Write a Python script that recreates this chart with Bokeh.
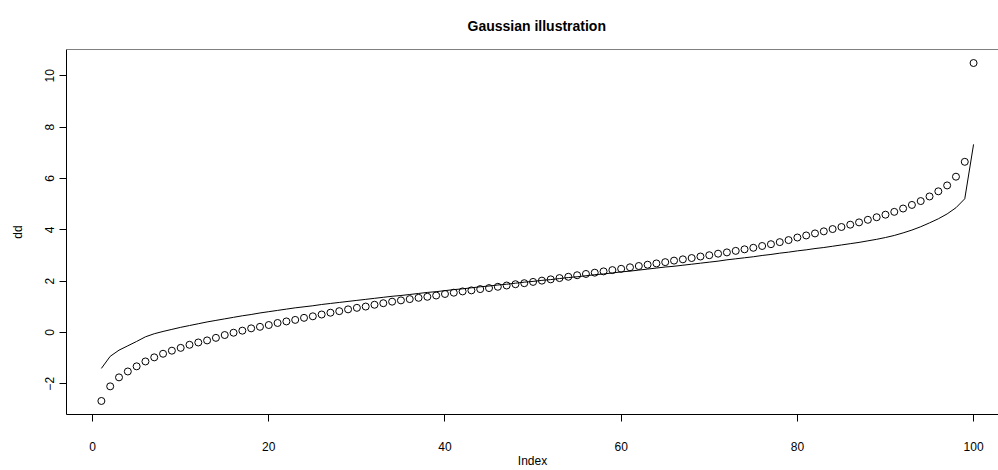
from bokeh.plotting import figure
from bokeh.models import Range1d, FixedTicker, Span
from bokeh.embed import file_html
from bokeh.resources import INLINE

# ---- data ----
index = list(range(1, 101))

dd = [
    -2.67, -2.10, -1.75, -1.52, -1.32, -1.13, -0.97, -0.83, -0.71, -0.60,
    -0.48, -0.39, -0.31, -0.21, -0.10, -0.01, 0.07, 0.16, 0.22, 0.29,
    0.37, 0.43, 0.49, 0.57, 0.63, 0.70, 0.77, 0.83, 0.90, 0.96,
    1.01, 1.08, 1.14, 1.20, 1.25, 1.30, 1.35, 1.39, 1.44, 1.50,
    1.55, 1.60, 1.64, 1.69, 1.73, 1.78, 1.83, 1.88, 1.92, 1.97,
    2.02, 2.07, 2.12, 2.17, 2.23, 2.28, 2.33, 2.38, 2.43, 2.48,
    2.54, 2.59, 2.64, 2.69, 2.74, 2.80, 2.85, 2.90, 2.96, 3.01,
    3.07, 3.12, 3.18, 3.24, 3.30, 3.37, 3.44, 3.52, 3.60, 3.70,
    3.78, 3.86, 3.94, 4.03, 4.11, 4.20, 4.29, 4.39, 4.49, 4.59,
    4.70, 4.83, 4.97, 5.12, 5.30, 5.50, 5.73, 6.07, 6.65, 10.50,
]

fitted = [
    -1.40, -0.93, -0.69, -0.52, -0.35, -0.17, -0.05, 0.04, 0.12, 0.20,
    0.27, 0.34, 0.41, 0.47, 0.53, 0.59, 0.65, 0.70, 0.76, 0.81,
    0.86, 0.91, 0.96, 1.00, 1.04, 1.09, 1.13, 1.17, 1.21, 1.25,
    1.29, 1.33, 1.37, 1.41, 1.44, 1.48, 1.52, 1.56, 1.59, 1.63,
    1.67, 1.70, 1.74, 1.78, 1.81, 1.85, 1.88, 1.92, 1.96, 1.99,
    2.03, 2.06, 2.10, 2.14, 2.17, 2.21, 2.25, 2.28, 2.32, 2.36,
    2.39, 2.43, 2.47, 2.51, 2.55, 2.58, 2.62, 2.66, 2.70, 2.74,
    2.78, 2.83, 2.87, 2.91, 2.95, 3.00, 3.04, 3.09, 3.13, 3.18,
    3.22, 3.27, 3.31, 3.36, 3.41, 3.46, 3.51, 3.57, 3.63, 3.70,
    3.78, 3.88, 3.99, 4.12, 4.27, 4.43, 4.62, 4.86, 5.21, 7.33,
]

x_ticks = [0, 20, 40, 60, 80, 100]
y_ticks = [-2, 0, 2, 4, 6, 8, 10]

title_text = "Gaussian illustration"
x_label = "Index"
y_label = "dd"

FONT = "Liberation Sans"

# R-style 4% range extension
xmin, xmax = min(index), max(index)
xpad = 0.04 * (xmax - xmin)
ymin, ymax = min(dd), max(dd)
ypad = 0.04 * (ymax - ymin)

W, H = 998, 470
ML, MR, MT, MB = 66, 0, 49, 56
px_per_x = 8.81
x_start = xmin - xpad
x_end = x_start + (W - ML - MR) / px_per_x
y_start, y_end = ymin - ypad, ymax + ypad

p = figure(width=W, height=H, output_backend="svg", toolbar_location=None,
           x_range=Range1d(x_start, x_end),
           y_range=Range1d(y_start, y_end),
           min_border_left=ML, min_border_right=MR,
           min_border_top=MT, min_border_bottom=MB)

p.background_fill_color = "white"
p.border_fill_color = "white"
p.outline_line_color = None
p.xgrid.visible = False
p.ygrid.visible = False

# title
p.title.text = title_text
p.title.align = "left"
p.title.offset = 401
p.title.text_font = FONT
p.title.text_font_size = "14px"
p.title.text_font_style = "bold"
p.title.text_color = "black"
p.title.standoff = 31

for ax in (p.xaxis[0], p.yaxis[0]):
    ax.axis_line_color = "black"
    ax.axis_line_width = 1
    ax.major_tick_line_color = "black"
    ax.major_tick_out = 7
    ax.major_tick_in = 0
    ax.minor_tick_line_color = None
    ax.major_label_text_font = FONT
    ax.major_label_text_font_size = "12px"
    ax.major_label_text_color = "black"
    ax.axis_label_text_font = FONT
    ax.axis_label_text_font_size = "12px"
    ax.axis_label_text_font_style = "normal"
    ax.axis_label_text_color = "black"

p.xaxis.ticker = FixedTicker(ticks=x_ticks)
p.yaxis.ticker = FixedTicker(ticks=y_ticks)
p.xaxis.axis_label = x_label
p.yaxis.axis_label = y_label
p.xaxis.major_label_standoff = 20
p.xaxis.axis_label_standoff = 0
p.yaxis.major_label_orientation = "vertical"
p.yaxis.major_label_standoff = 5
p.yaxis.axis_label_standoff = 18

# top border of the box (right side is cut off in the reference)
p.add_layout(Span(location=y_end, dimension="width",
                  line_color="black", line_width=1))

p.line(index, fitted, line_color="black", line_width=1)
p.scatter(index, dd, marker="circle", size=7, fill_color=None,
          line_color="black", line_width=1)

open("out.html", "w").write(file_html(p, INLINE))
